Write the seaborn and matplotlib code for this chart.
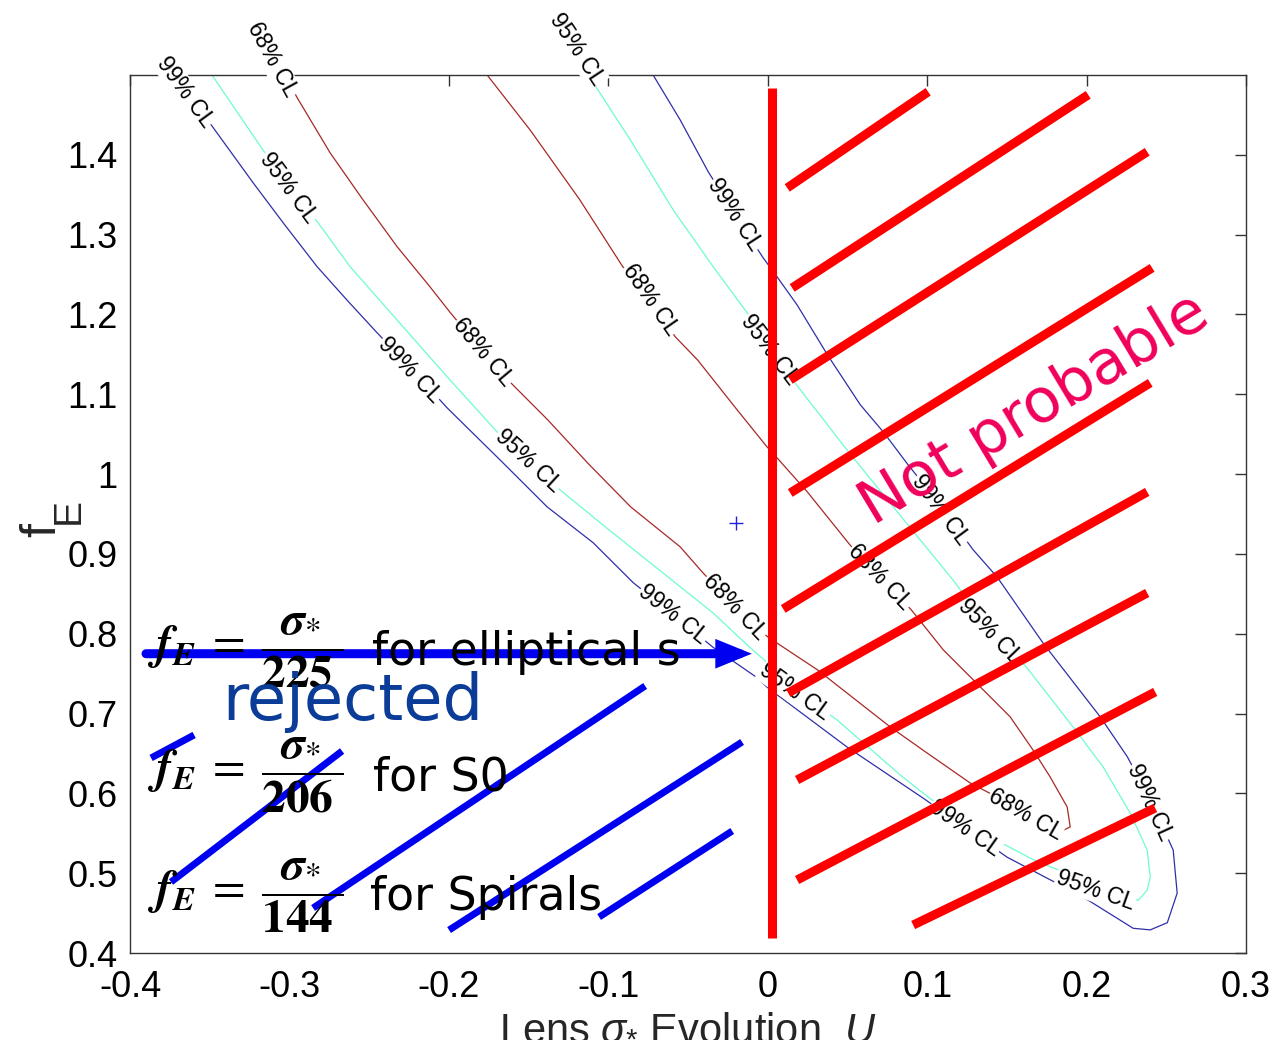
import numpy as np
import pandas as pd
import matplotlib
matplotlib.use("Agg")
import matplotlib.pyplot as plt
import seaborn as sns

# ---------------------------------------------------------------
# Confidence contours in the (U, f_E) plane, traced as closed loops
# (left branch down to the tip, then back up the right branch)
# ---------------------------------------------------------------
cl68_u = [-0.303, -0.295, -0.2745, -0.254, -0.2325, -0.212, -0.199, -0.1785, -0.160, -0.138,
          -0.113, -0.086, -0.055, -0.0405, -0.0205, 0.000, 0.031, 0.077, 0.0975, 0.127,
          0.1615, 0.1834, 0.1897, 0.1878, 0.177, 0.1665, 0.152, 0.127, 0.110, 0.090,
          0.0705, 0.0517, 0.0247, 0.006, -0.0004, -0.019, -0.044, -0.058, -0.074, -0.091,
          -0.118, -0.149, -0.176]
cl68_f = [1.500, 1.471, 1.4025, 1.344, 1.285, 1.235, 1.202, 1.153, 1.112, 1.068,
          1.014, 0.959, 0.909, 0.876, 0.834, 0.796, 0.755, 0.683, 0.654, 0.613,
          0.577, 0.552, 0.558, 0.583, 0.621, 0.654, 0.696, 0.746, 0.780, 0.830,
          0.871, 0.911, 0.978, 1.020, 1.034, 1.080, 1.143, 1.172, 1.218, 1.260,
          1.344, 1.431, 1.500]

cl95_u = [-0.3486, -0.3166, -0.2996, -0.2821, -0.262, -0.2325, -0.2011, -0.1698, -0.1503, -0.1302,
          -0.097, -0.0656, -0.0343, -0.0129, 0.0034, 0.0172, 0.0435, 0.0831, 0.1188, 0.1665,
          0.2054, 0.2324, 0.238, 0.2399, 0.238, 0.2274, 0.2104, 0.1916, 0.1627, 0.1395,
          0.1163, 0.0787, 0.0498, 0.0203, 0.0015, -0.0129, -0.0343, -0.0593, -0.0863, -0.1064,
          -0.1127]
cl95_f = [1.500, 1.406, 1.360, 1.315, 1.260, 1.193, 1.122, 1.053, 1.017, 0.980,
          0.926, 0.876, 0.826, 0.786, 0.757, 0.730, 0.692, 0.623, 0.567, 0.517,
          0.485, 0.466, 0.479, 0.495, 0.529, 0.575, 0.633, 0.683, 0.757, 0.805,
          0.867, 0.959, 1.030, 1.106, 1.156, 1.202, 1.260, 1.331, 1.419, 1.481,
          1.500]

cl99_u = [-0.3718, -0.346, -0.3228, -0.304, -0.2827, -0.2639, -0.245, -0.2231, -0.2011, -0.166,
          -0.1384, -0.1095, -0.0844, -0.0593, -0.0343, -0.0067, -0.0004, 0.0498, 0.0975, 0.1238,
          0.1502, 0.1979, 0.2292, 0.2399, 0.2506, 0.2568, 0.2543, 0.2399, 0.2255, 0.2085,
          0.1728, 0.1439, 0.1289, 0.1082, 0.0881, 0.0724, 0.058, 0.0379, 0.0184, 0.0059,
          -0.0029, -0.0205, -0.0374, -0.055, -0.0719]
cl99_f = [1.500, 1.429, 1.365, 1.315, 1.260, 1.218, 1.177, 1.131, 1.083, 1.014,
          0.959, 0.914, 0.864, 0.824, 0.783, 0.745, 0.733, 0.658, 0.594, 0.557,
          0.520, 0.470, 0.431, 0.429, 0.438, 0.475, 0.529, 0.592, 0.646, 0.696,
          0.788, 0.871, 0.905, 0.961, 1.0115, 1.053, 1.087, 1.148, 1.212, 1.247,
          1.271, 1.325, 1.379, 1.444, 1.500]

level_colors = {"68% CL": "#a82828", "95% CL": "#6dfcd2", "99% CL": "#2f2fa8"}

# inline contour labels: level, position (U, f_E)
label_level = ["99% CL", "99% CL", "99% CL", "99% CL", "99% CL", "99% CL", "99% CL",
               "95% CL", "95% CL", "95% CL", "95% CL", "95% CL", "95% CL", "95% CL",
               "68% CL", "68% CL", "68% CL", "68% CL", "68% CL", "68% CL"]
label_u = [-0.3655, -0.2243, -0.0593, 0.1238, 0.2399, 0.1082, -0.0205,
           -0.3009, -0.1503, 0.0172, 0.2054, 0.1395, 0.0015, -0.1196,
           -0.3109, -0.1785, -0.0205, 0.1615, 0.0705, -0.0738]
label_f = [1.479, 1.131, 0.824, 0.557, 0.589, 0.955, 1.325,
           1.359, 1.017, 0.727, 0.479, 0.802, 1.156, 1.532,
           1.519, 1.153, 0.834, 0.573, 0.871, 1.218]

# best-fit point
best_u, best_f = -0.020, 0.939

# "not probable" region: vertical bound at U = 0 and hatching
bound_u = 0.0028
bound_f = (0.419, 1.484)
red_u0 = [0.0122, 0.0153, 0.0141, 0.0141, 0.0097, 0.0128, 0.0184, 0.0184, 0.0912]
red_f0 = [1.3586, 1.2333, 1.1180, 0.9764, 0.8311, 0.7258, 0.6168, 0.4915, 0.4351]
red_u1 = [0.1006, 0.2010, 0.2380, 0.2411, 0.2399, 0.2380, 0.2380, 0.2430, 0.2430]
red_f1 = [1.4790, 1.4752, 1.4038, 1.2584, 1.1143, 0.9777, 0.8511, 0.7271, 0.5817]

# rejected region hatching
blue_u0 = [-0.3868, -0.3743, -0.2852, -0.1999, -0.1058]
blue_f0 = [0.6444, 0.4890, 0.4564, 0.4288, 0.4451]
blue_u1 = [-0.3598, -0.2670, -0.0769, -0.0161, -0.0223]
blue_f1 = [0.6732, 0.6531, 0.7346, 0.6644, 0.5529]

# elliptical f_E = sigma/225 arrow
arrow_f = 0.775
arrow_u = (-0.390, -0.010)

# f_E relations
rel_denoms = ["225", "206", "144"]
rel_names = ["for elliptical s", "for S0", "for Spirals"]
rel_eq_f = [0.778, 0.623, 0.472]
rel_txt_f = [0.761, 0.604, 0.454]
rel_eq_u = -0.389
rel_txt_u = [-0.248, -0.2476, -0.2494]

xticks = [-0.4, -0.3, -0.2, -0.1, 0.0, 0.1, 0.2, 0.3]
xtick_labels = ["-0.4", "-0.3", "-0.2", "-0.1", "0", "0.1", "0.2", "0.3"]
yticks = [0.4, 0.5, 0.6, 0.7, 0.8, 0.9, 1.0, 1.1, 1.2, 1.3, 1.4]
ytick_labels = ["0.4", "0.5", "0.6", "0.7", "0.8", "0.9", "1", "1.1", "1.2", "1.3", "1.4"]

# ---------------------------------------------------------------
sns.set_theme(style="white")
plt.rcParams["font.family"] = ["Liberation Sans", "DejaVu Sans"]
plt.rcParams["mathtext.fontset"] = "custom"
plt.rcParams["mathtext.rm"] = "Liberation Sans"
plt.rcParams["mathtext.it"] = "Liberation Sans:italic"
plt.rcParams["mathtext.bf"] = "Liberation Sans:bold"
plt.rcParams["axes.unicode_minus"] = False

fig = plt.figure(figsize=(12.75, 10.54), dpi=100)
ax = fig.add_axes([0.102, 0.0958, 0.8753, 0.8330])
ax.set_xlim(-0.4, 0.3)
ax.set_ylim(0.4, 1.5)

contours = pd.concat([
    pd.DataFrame({"U": cl68_u, "fE": cl68_f, "level": "68% CL"}),
    pd.DataFrame({"U": cl95_u, "fE": cl95_f, "level": "95% CL"}),
    pd.DataFrame({"U": cl99_u, "fE": cl99_f, "level": "99% CL"}),
], ignore_index=True)

sns.lineplot(data=contours, x="U", y="fE", hue="level", units="level", estimator=None,
             sort=False, palette=level_colors, linewidth=0.9, legend=False, ax=ax, zorder=2)

curves = {"68% CL": (cl68_u, cl68_f), "95% CL": (cl95_u, cl95_f), "99% CL": (cl99_u, cl99_f)}


def local_angle(xs, ys, x0, y0):
    pts = ax.transData.transform(np.column_stack([xs, ys]))
    p0 = ax.transData.transform((x0, y0))
    best = None
    for a, b in zip(pts[:-1], pts[1:]):
        ab = b - a
        t = np.clip(np.dot(p0 - a, ab) / np.dot(ab, ab), 0, 1)
        d = np.linalg.norm(a + t * ab - p0)
        if best is None or d < best[0]:
            best = (d, ab)
    ang = np.degrees(np.arctan2(best[1][1], best[1][0]))
    if ang > 90:
        ang -= 180
    if ang < -90:
        ang += 180
    return ang


for lev, u, f in zip(label_level, label_u, label_f):
    xs, ys = curves[lev]
    rot = local_angle(xs, ys, u, f)
    ax.text(u, f, lev, fontsize=16.5, rotation=rot, rotation_mode="anchor",
            ha="center", va="center", color="black", zorder=3, clip_on=False,
            bbox=dict(facecolor="white", edgecolor="none", pad=0.5))

ax.plot([best_u], [best_f], marker="+", color="#2020e0", markersize=10, mew=1.0, zorder=3)

# hatching
red = pd.DataFrame({"U": red_u0 + red_u1, "fE": red_f0 + red_f1,
                    "seg": list(range(len(red_u0))) * 2})
sns.lineplot(data=red, x="U", y="fE", units="seg", estimator=None, sort=False,
             color="#ff0000", linewidth=6.5, ax=ax, zorder=4, solid_capstyle="butt")
ax.plot([bound_u, bound_u], list(bound_f), color="#ff0000", linewidth=6.5,
        solid_capstyle="butt", zorder=4)

blue = pd.DataFrame({"U": blue_u0 + blue_u1, "fE": blue_f0 + blue_f1,
                     "seg": list(range(len(blue_u0))) * 2})
sns.lineplot(data=blue, x="U", y="fE", units="seg", estimator=None, sort=False,
             color="#0000f0", linewidth=5.0, ax=ax, zorder=4, solid_capstyle="butt")

ax.annotate("", xy=(arrow_u[1], arrow_f), xytext=(arrow_u[0], arrow_f),
            arrowprops=dict(arrowstyle="-|>,head_length=0.32,head_width=0.13",
                            mutation_scale=45, lw=6.5, color="#0000f0",
                            shrinkA=0, shrinkB=0, joinstyle="miter"),
            zorder=5)

# f_E relations
for den, name, fe, ft, ut in zip(rel_denoms, rel_names, rel_eq_f, rel_txt_f, rel_txt_u):
    eq = (r"$\mathbfit{f}_{\mathbfit{E}}\;=\;\dfrac{\;\mathbfit{\sigma}_{*}\;}{\mathbf{"
          + den + r"}\;}$")
    ax.text(rel_eq_u, fe, eq, fontsize=34, math_fontfamily="stix", ha="left", va="center",
            color="black", zorder=6)
    ax.text(ut, ft, name, fontsize=33, family="DejaVu Sans", ha="left", va="baseline",
            color="black", zorder=6)

ax.text(-0.342, 0.692, "rejected", fontsize=46, family="DejaVu Sans", color="#0a3c98",
        ha="left", va="baseline", zorder=6)
ax.text(0.167, 1.080, "Not probable", fontsize=44, family="DejaVu Sans", color="#f0005a",
        rotation=31, rotation_mode="anchor", ha="center", va="center", zorder=6)

# axes styling
ax.set_xticks(xticks)
ax.set_xticklabels(xtick_labels)
ax.set_yticks(yticks)
ax.set_yticklabels(ytick_labels)
ax.tick_params(direction="in", length=8, width=1, top=True, right=True,
               labelsize=26, colors="#333333", labelcolor="black")
ax.tick_params(axis="x", pad=12)
ax.tick_params(axis="y", pad=9)
for s in ax.spines.values():
    s.set_color("#333333")
    s.set_linewidth(1.0)

ax.set_xlabel(r"Lens $\sigma_{*}$ Evolution  $U$", fontsize=30)
ax.xaxis.label.set(va="top")
ax.xaxis.set_label_coords(0.5, -0.060)
ax.set_ylabel("f", fontsize=36)
ax.yaxis.label.set(ha="center", va="center", rotation_mode="anchor")
ax.yaxis.set_label_coords(-0.079, 0.482)
ax.text(-0.055, 0.503, "E", transform=ax.transAxes, fontsize=28, rotation=90,
        ha="center", va="center", rotation_mode="anchor")

fig.savefig("out.png", dpi=100, facecolor="white")
